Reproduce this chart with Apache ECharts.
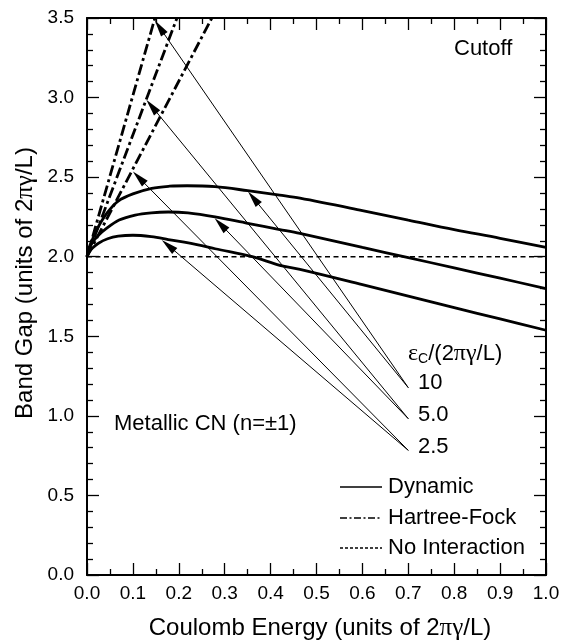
<!DOCTYPE html>
<html>
<head>
<meta charset="utf-8">
<script src="https://cdn.jsdelivr.net/npm/echarts@6/dist/echarts.min.js"></script>
<style>
  html, body { margin: 0; padding: 0; background: #fff; }
  #chart { width: 570px; height: 642px; }
</style>
</head>
<body>
<div id="chart"></div>
<script>
// ---- data ----
const xTickLabels = ['0.0','0.1','0.2','0.3','0.4','0.5','0.6','0.7','0.8','0.9','1.0'];
const yTickLabels = ['0.0','0.5','1.0','1.5','2.0','2.5','3.0','3.5'];

// Dynamic (solid) curves, eps_c = 10, 5.0, 2.5
const dynamic10 = [[0,2.0],[0.005,2.06],[0.012,2.11],[0.025,2.19],[0.045,2.28],[0.068,2.35],[0.1,2.395],[0.141,2.43],[0.18,2.443],[0.218,2.446],[0.279,2.44],[0.35,2.415],[0.42,2.387],[0.464,2.368],[0.6,2.29],[0.7,2.23],[0.8,2.17],[0.9,2.116],[1.0,2.058]];
const dynamic5  = [[0,2.0],[0.005,2.05],[0.012,2.09],[0.025,2.135],[0.039,2.17],[0.07,2.23],[0.105,2.262],[0.14,2.276],[0.177,2.281],[0.22,2.275],[0.279,2.25],[0.35,2.21],[0.42,2.171],[0.464,2.146],[0.6,2.058],[0.7,1.994],[0.8,1.93],[0.9,1.865],[1.0,1.80]];
const dynamic25 = [[0,2.0],[0.005,2.03],[0.012,2.055],[0.025,2.085],[0.045,2.113],[0.068,2.129],[0.1,2.135],[0.14,2.126],[0.177,2.108],[0.25,2.07],[0.279,2.05],[0.36,2.0],[0.42,1.946],[0.464,1.92],[0.6,1.824],[0.7,1.752],[0.8,1.68],[0.9,1.609],[1.0,1.538]];

// Hartree-Fock (dash-dot) lines, eps_c = 10, 5.0, 2.5 (cut off at top)
const hf10 = [[0,2.0],[0.148,3.5]];
const hf5  = [[0,2.0],[0.196,3.5]];
const hf25 = [[0,2.0],[0.272,3.5]];

// No interaction (dotted)
const noInteraction = [[0,2.0],[1.0,2.0]];

// Arrows: from label points to curves
const arrowStarts = [[0.700,1.177],[0.700,1.177],[0.700,0.982],[0.700,0.982],[0.700,0.783],[0.700,0.783]];
const arrowEnds   = [[0.158,3.442],[0.3625,2.369],[0.141,2.945],[0.291,2.204],[0.113,2.497],[0.177,2.071]];

const epsLabels = ['10','5.0','2.5'];
const legendNames = ['Dynamic','Hartree-Fock','No Interaction'];

// ---- chart ----
const FONT = '"Liberation Sans", Arial, Helvetica, sans-serif';
const SERIF = '"Liberation Serif", "DejaVu Serif", serif';
const chart = echarts.init(document.getElementById('chart'), null, { renderer: 'canvas' });

const tickStyle = { color: '#000', width: 1.3 };
function xAxisCfg(pos, showLabel) {
  return {
    type: 'value', position: pos, min: 0, max: 1, interval: 0.1,
    axisLine: { show: true, onZero: false, lineStyle: { color: '#000', width: 2 } },
    axisTick: { show: true, inside: true, length: 12, lineStyle: tickStyle },
    minorTick: { show: true, splitNumber: 2, length: 6, lineStyle: tickStyle },
    splitLine: { show: false }, minorSplitLine: { show: false },
    axisLabel: {
      show: showLabel, margin: 9, color: '#000', fontSize: 19, fontFamily: FONT,
      formatter: v => xTickLabels[Math.round(v * 10)]
    }
  };
}
function yAxisCfg(pos, showLabel) {
  return {
    type: 'value', position: pos, min: 0, max: 3.5, interval: 0.5,
    axisLine: { show: true, onZero: false, lineStyle: { color: '#000', width: 2 } },
    axisTick: { show: true, inside: true, length: 12, lineStyle: tickStyle },
    minorTick: { show: true, splitNumber: 5, length: 6, lineStyle: tickStyle },
    splitLine: { show: false }, minorSplitLine: { show: false },
    axisLabel: {
      show: showLabel, margin: 13, color: '#000', fontSize: 19, fontFamily: FONT,
      formatter: v => yTickLabels[Math.round(v * 2)]
    }
  };
}

const solid = { color: '#000', width: 2.8, type: 'solid' };
const dashDot = { color: '#000', width: 2.8, type: [11, 3.5, 3, 3.5] };
const dotted = { color: '#000', width: 1.6, type: [5, 3.5] };

function lineSeries(name, data, style, smooth) {
  return {
    type: 'line', name: name, data: data, xAxisIndex: 0, yAxisIndex: 0,
    symbol: 'none', showSymbol: false, smooth: smooth || false,
    lineStyle: style, itemStyle: { color: '#000' },
    silent: true, animation: false, clip: true, z: 3
  };
}

const series = [
  lineSeries('Dynamic', dynamic10, solid, 0.35),
  lineSeries('Dynamic', dynamic5, solid, 0.35),
  lineSeries('Dynamic', dynamic25, solid, 0.35),
  lineSeries('Hartree-Fock', hf10, dashDot),
  lineSeries('Hartree-Fock', hf5, dashDot),
  lineSeries('Hartree-Fock', hf25, dashDot),
  lineSeries('No Interaction', noInteraction, dotted),
  {
    type: 'line', name: 'arrows', data: [], xAxisIndex: 0, yAxisIndex: 0,
    symbol: 'none', silent: true, animation: false,
    markLine: {
      silent: true, animation: false,
      symbol: ['none', 'triangle'], symbolSize: [8, 17],
      label: { show: false },
      lineStyle: { color: '#000', width: 1, type: 'solid' },
      itemStyle: { color: '#000' },
      emphasis: { disabled: true },
      data: arrowStarts.map((s, i) => [{ coord: s }, { coord: arrowEnds[i] }])
    }
  }
];

const annFont = { fontSize: 22, fontFamily: FONT, fill: '#000' };

// legend key (drawn as graphic samples)
const legendRows = [487, 518, 548];
const legendDash = [null, [7, 2.5, 2, 2.5], [3, 2]];
const legendGraphics = [];
legendNames.forEach((nm, i) => {
  legendGraphics.push({
    type: 'line', silent: true,
    shape: { x1: 340, y1: legendRows[i], x2: 382, y2: legendRows[i] },
    style: { stroke: '#000', lineWidth: 1.3, lineDash: legendDash[i] }
  });
  legendGraphics.push({
    type: 'text', x: 388, y: legendRows[i], silent: true,
    style: { text: nm, fontSize: 22, fontFamily: FONT, fill: '#000', verticalAlign: 'middle' }
  });
});

chart.setOption({
  backgroundColor: '#fff',
  animation: false,
  grid: { left: 87, right: 24, top: 18, bottom: 67, containLabel: false },
  xAxis: [xAxisCfg('bottom', true), xAxisCfg('top', false)],
  yAxis: [yAxisCfg('left', true), yAxisCfg('right', false)],
  graphic: [
    { type: 'text', left: 454, top: 38, style: Object.assign({ text: 'Cutoff' }, annFont) },
    { type: 'text', left: 114, top: 413, style: Object.assign({ text: 'Metallic CN (n=±1)' }, annFont) },
    { type: 'text', left: 408, top: 342, style: Object.assign({
        text: '{e|ε}{s|C}/(2{g|πγ}/L)',
        rich: {
          e: { fontFamily: SERIF, fontSize: 24, fill: '#000' },
          s: { fontFamily: FONT, fontSize: 14, fill: '#000', verticalAlign: 'bottom', padding: [8, 0, 0, 0] },
          g: { fontFamily: SERIF, fontSize: 24, fill: '#000' }
        } }, annFont) },
    { type: 'text', left: 418, top: 372, style: Object.assign({ text: epsLabels[0] }, annFont) },
    { type: 'text', left: 418, top: 404, style: Object.assign({ text: epsLabels[1] }, annFont) },
    { type: 'text', left: 418, top: 436, style: Object.assign({ text: epsLabels[2] }, annFont) },
    { type: 'text', x: 320, y: 628, style: {
        text: 'Coulomb Energy (units of 2{g|πγ}/L)', fontSize: 24, fontFamily: FONT, fill: '#000',
        align: 'center', verticalAlign: 'middle',
        rich: { g: { fontFamily: SERIF, fontSize: 25, fill: '#000' } } } },
    { type: 'text', x: 25, y: 283, rotation: Math.PI / 2, style: {
        text: 'Band Gap (units of 2{g|πγ}/L)', fontSize: 24, fontFamily: FONT, fill: '#000',
        align: 'center', verticalAlign: 'middle',
        rich: { g: { fontFamily: SERIF, fontSize: 25, fill: '#000' } } } }
  ].concat(legendGraphics),
  series: series
});
</script>
</body>
</html>
